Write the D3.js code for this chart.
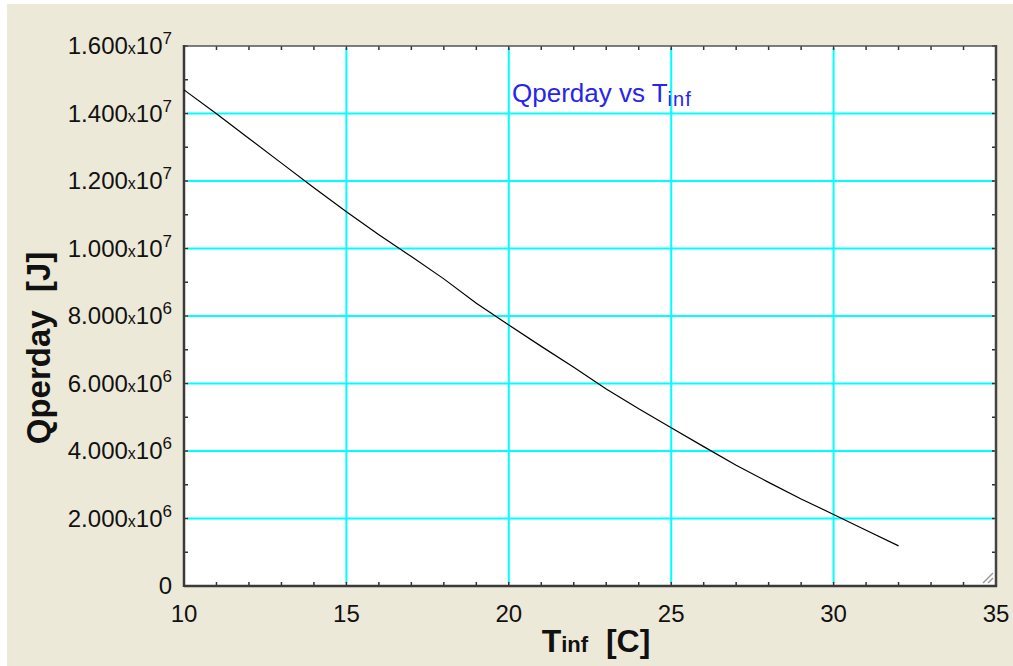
<!DOCTYPE html>
<html>
<head>
<meta charset="utf-8">
<script src="https://cdn.jsdelivr.net/npm/d3@7"></script>
<style>
  html, body { margin: 0; padding: 0; background: #ffffff; }
  svg { display: block; font-family: "Liberation Sans", Arial, sans-serif; }
</style>
</head>
<body>
<div id="chart"></div>
<script>
// data: Qperday [J] against T_inf [C]
var tInf = [10, 11, 12, 13, 14, 15, 16, 17, 18, 19, 20, 21, 22, 23, 24, 25, 26, 27, 28, 29, 30, 31, 32];
var qPerDay = [14.70e6, 13.99e6, 13.26e6, 12.53e6, 11.80e6, 11.09e6, 10.41e6, 9.76e6, 9.10e6, 8.38e6,
               7.73e6, 7.10e6, 6.48e6, 5.84e6, 5.25e6, 4.69e6, 4.13e6, 3.58e6, 3.07e6, 2.58e6,
               2.12e6, 1.65e6, 1.19e6];

// tick labels
var xTicks = [10, 15, 20, 25, 30, 35];
var yTicks = [0, 2e6, 4e6, 6e6, 8e6, 10e6, 12e6, 14e6, 16e6];
var yTickMant = ["0", "2.000", "4.000", "6.000", "8.000", "1.000", "1.200", "1.400", "1.600"];
var yTickExp = [null, 6, 6, 6, 6, 7, 7, 7, 7];

var width = 1013, height = 666;
var margin = { top: 46, right: 17, bottom: 80, left: 184 };

var svg = d3.select("#chart").append("svg")
    .attr("width", width)
    .attr("height", height);

// beige window background
svg.append("rect")
    .attr("x", 7).attr("y", 4)
    .attr("width", width - 7).attr("height", height - 4)
    .attr("fill", "#ece9d8");

var x = d3.scaleLinear()
    .domain([10, 35])
    .range([margin.left, width - margin.right]);

var y = d3.scaleLinear()
    .domain([0, 1.6e7])
    .range([height - margin.bottom, margin.top]);

var x0 = x.range()[0], x1 = x.range()[1];
var y0 = y.range()[0], y1 = y.range()[1];

// plot area
svg.append("rect")
    .attr("x", x0).attr("y", y1)
    .attr("width", x1 - x0).attr("height", y0 - y1)
    .attr("fill", "#ffffff");

// grid lines
var grid = svg.append("g")
    .attr("stroke", "#00ffff")
    .attr("stroke-width", 2);

grid.selectAll("line.gx")
  .data(xTicks.filter(d => d > 10 && d < 35))
  .join("line")
    .attr("class", "gx")
    .attr("x1", d => x(d)).attr("x2", d => x(d))
    .attr("y1", y1 + 2).attr("y2", y0 - 3);

grid.selectAll("line.gy")
  .data(yTicks.filter(d => d > 0 && d < 1.6e7))
  .join("line")
    .attr("class", "gy")
    .attr("y1", d => y(d)).attr("y2", d => y(d))
    .attr("x1", x0 + 3).attr("x2", x1 - 2);

// minor ticks on all four sides, pointing inward
var xMinor = d3.range(10, 36, 1);
var yMinor = d3.range(0, 1.6e7 + 1, 1e6);
var ticks = svg.append("g")
    .attr("stroke", "#333")
    .attr("stroke-width", 1.5);

ticks.selectAll("line.tb")
  .data(xMinor)
  .join("line")
    .attr("x1", d => x(d)).attr("x2", d => x(d))
    .attr("y1", y0).attr("y2", y0 - 4);
ticks.selectAll("line.tt")
  .data(xMinor)
  .join("line")
    .attr("x1", d => x(d)).attr("x2", d => x(d))
    .attr("y1", y1).attr("y2", y1 + 4);
ticks.selectAll("line.tl")
  .data(yMinor)
  .join("line")
    .attr("y1", d => y(d)).attr("y2", d => y(d))
    .attr("x1", x0).attr("x2", x0 + 4);
ticks.selectAll("line.tr")
  .data(yMinor)
  .join("line")
    .attr("y1", d => y(d)).attr("y2", d => y(d))
    .attr("x1", x1).attr("x2", x1 - 4);

// the frame
svg.append("line")
    .attr("x1", x0).attr("x2", x1).attr("y1", y1).attr("y2", y1)
    .attr("stroke", "#555").attr("stroke-width", 1.5);
svg.append("line")
    .attr("x1", x1).attr("x2", x1).attr("y1", y1 - 1).attr("y2", y0 + 1)
    .attr("stroke", "#444").attr("stroke-width", 2.5);
svg.append("line")
    .attr("x1", x0).attr("x2", x0).attr("y1", y1 - 1).attr("y2", y0 + 1)
    .attr("stroke", "#3a3a3a").attr("stroke-width", 2.5);
svg.append("line")
    .attr("x1", x0).attr("x2", x1 + 1).attr("y1", y0).attr("y2", y0)
    .attr("stroke", "#3a3a3a").attr("stroke-width", 2.5);

// resize grip in the corner
svg.append("g")
    .attr("stroke", "#9a9a9a")
    .attr("stroke-width", 1.5)
  .selectAll("line")
  .data([0, 5, 10])
  .join("line")
    .attr("x1", d => x1 - 3 - d).attr("y1", y0 - 3)
    .attr("x2", x1 - 3).attr("y2", d => y0 - 3 - d);

// the curve
var line = d3.line()
    .x((d, i) => x(tInf[i]))
    .y(d => y(d));

svg.append("path")
    .datum(qPerDay)
    .attr("fill", "none")
    .attr("stroke", "#000")
    .attr("stroke-width", 1.2)
    .attr("d", line);

// x tick labels
svg.append("g")
  .selectAll("text")
  .data(xTicks)
  .join("text")
    .attr("x", d => x(d))
    .attr("y", y0 + 36)
    .attr("text-anchor", "middle")
    .attr("font-size", 24)
    .attr("fill", "#111")
    .text(d => d);

// y tick labels, with the x10^n part
var yl = svg.append("g")
  .selectAll("text")
  .data(yTicks)
  .join("text")
    .attr("x", x0 - 12)
    .attr("y", d => y(d) + 8)
    .attr("text-anchor", "end")
    .attr("font-size", 24)
    .attr("fill", "#111");

yl.each(function(d, i) {
  var t = d3.select(this);
  t.append("tspan").text(yTickMant[i]);
  if (yTickExp[i] != null) {
    t.append("tspan").attr("font-size", 16).text("x");
    t.append("tspan").text("10");
    t.append("tspan").attr("font-size", 17).attr("dy", -10).text(yTickExp[i]);
  }
});

// chart title
var title = svg.append("text")
    .attr("x", 512)
    .attr("y", 102)
    .attr("font-size", 26)
    .attr("fill", "#2525ee");
title.append("tspan").text("Qperday vs T");
title.append("tspan").attr("font-size", 20).attr("dy", 4).attr("letter-spacing", 1).text("inf");

// x axis title
var xt = svg.append("text")
    .attr("x", 596)
    .attr("y", 652)
    .attr("text-anchor", "middle")
    .attr("font-size", 32)
    .attr("font-weight", "bold")
    .attr("fill", "#111");
xt.append("tspan").text("T");
xt.append("tspan").attr("font-size", 22).text("inf");
xt.append("tspan").attr("font-size", 32).text("\u00a0\u00a0[C]");

// y axis title
svg.append("text")
    .attr("transform", "translate(50,348) rotate(-90)")
    .attr("text-anchor", "middle")
    .attr("font-size", 33)
    .attr("font-weight", "bold")
    .attr("fill", "#111")
    .text("Qperday\u00a0\u00a0[J]");
</script>
</body>
</html>
